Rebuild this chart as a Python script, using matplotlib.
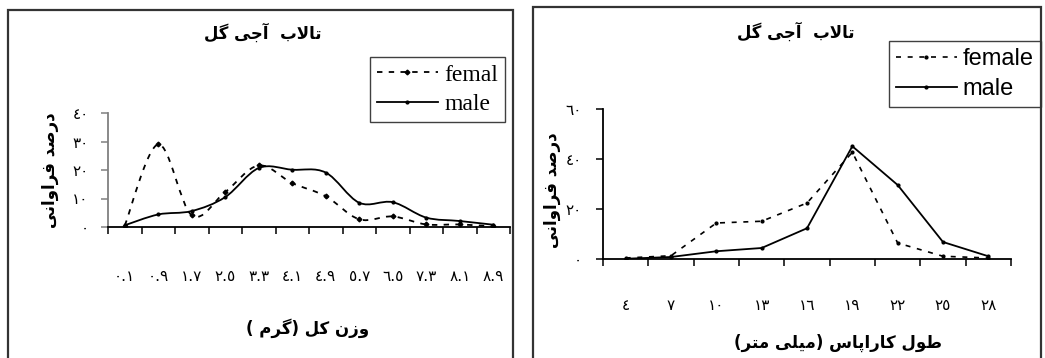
import matplotlib
matplotlib.use('Agg')
import matplotlib.pyplot as plt
import numpy as np
from matplotlib.path import Path
from matplotlib.patches import PathPatch, Rectangle
from matplotlib.lines import Line2D

# ---------------- data ----------------
weight_classes = ['0.1', '0.9', '1.7', '2.5', '3.3', '4.1', '4.9', '5.7', '6.5', '7.3', '8.1', '8.9']
weight_female = [0.5, 29.0, 4.1, 12.3, 21.6, 15.4, 10.8, 2.7, 3.7, 0.9, 0.9, 0.2]
weight_male = [0.6, 4.4, 5.6, 10.5, 20.7, 20.1, 19.1, 8.5, 8.7, 3.3, 2.1, 0.8]

length_classes = ['4', '7', '10', '13', '16', '19', '22', '25', '28']
length_female = [0.4, 1.3, 14.4, 15.1, 22.4, 42.7, 6.4, 1.1, 0.4]
length_male = [0.1, 0.8, 3.1, 4.4, 12.3, 45.1, 29.6, 6.8, 1.1]

title_txt = 'تالاب  آجی گل'
ylabel_txt = 'درصد فراوانی'
xlabel_left = 'وزن کل (گرم )'
xlabel_right = 'طول کاراپاس (میلی متر)'

# ---------------- persian text helpers ----------------
FORMS = {
    'ا': ('\uFE8D', '\uFE8E'), 'آ': ('\uFE81', '\uFE82'),
    'د': ('\uFEA9', '\uFEAA'), 'ر': ('\uFEAD', '\uFEAE'),
    'ز': ('\uFEAF', '\uFEB0'), 'و': ('\uFEED', '\uFEEE'),
    'ب': ('\uFE8F', '\uFE90', '\uFE91', '\uFE92'),
    'پ': ('\uFB56', '\uFB57', '\uFB58', '\uFB59'),
    'ت': ('\uFE95', '\uFE96', '\uFE97', '\uFE98'),
    'ج': ('\uFE9D', '\uFE9E', '\uFE9F', '\uFEA0'),
    'س': ('\uFEB1', '\uFEB2', '\uFEB3', '\uFEB4'),
    'ص': ('\uFEB9', '\uFEBA', '\uFEBB', '\uFEBC'),
    'ط': ('\uFEC1', '\uFEC2', '\uFEC3', '\uFEC4'),
    'ف': ('\uFED1', '\uFED2', '\uFED3', '\uFED4'),
    'ک': ('\uFB8E', '\uFB8F', '\uFB90', '\uFB91'),
    'گ': ('\uFB92', '\uFB93', '\uFB94', '\uFB95'),
    'ل': ('\uFEDD', '\uFEDE', '\uFEDF', '\uFEE0'),
    'م': ('\uFEE1', '\uFEE2', '\uFEE3', '\uFEE4'),
    'ن': ('\uFEE5', '\uFEE6', '\uFEE7', '\uFEE8'),
    'ی': ('\uFBFC', '\uFBFD', '\uFBFE', '\uFBFF'),
}
LAM_ALEF = {'ا': ('\uFEFB', '\uFEFC'), 'آ': ('\uFEF5', '\uFEF6')}


def fa(s):
    # contextual forms + right-to-left order, since matplotlib does no shaping
    out = []
    prev = False
    i = 0
    while i < len(s):
        c = s[i]
        if c not in FORMS:
            out.append(c)
            prev = False
            i += 1
            continue
        if c == 'ل' and i + 1 < len(s) and s[i + 1] in LAM_ALEF:
            out.append(LAM_ALEF[s[i + 1]][1 if prev else 0])
            prev = False
            i += 2
            continue
        nxt = s[i + 1] if i + 1 < len(s) else ''
        nxt_ok = len(FORMS[c]) == 4 and nxt in FORMS
        f = FORMS[c]
        if prev and nxt_ok:
            g = f[3]
        elif prev:
            g = f[1]
        elif nxt_ok:
            g = f[2]
        else:
            g = f[0]
        out.append(g)
        prev = nxt_ok
        i += 1
    vis = ''.join(reversed(out))
    return vis.translate(str.maketrans('()', ')('))


def ar_digits(s):
    return s.translate(str.maketrans('0123456789', '٠١٢٣٤٥٦٧٨٩'))


def smooth_path(xs, ys):
    # excel style smoothed line (bezier through the points)
    p = np.column_stack([xs, ys]).astype(float)
    n = len(p)
    verts = [p[0]]
    codes = [Path.MOVETO]
    for i in range(n - 1):
        p0 = p[i - 1] if i > 0 else p[i]
        p3 = p[i + 2] if i + 2 < n else p[i + 1]
        verts += [p[i] + (p[i + 1] - p0) / 6, p[i + 1] - (p3 - p[i]) / 6, p[i + 1]]
        codes += [Path.CURVE4] * 3
    return Path(verts, codes)


# ---------------- figure ----------------
W, H = 1045, 358
fig = plt.figure(figsize=(W / 100, H / 100), dpi=100)
fig.patch.set_facecolor('white')

AR = 'DejaVu Sans'

fig.add_artist(Rectangle((8 / W, -0.05), 505 / W, 1 - 10 / H + 0.05, transform=fig.transFigure,
                         fill=False, ec='#333333', lw=1.6))
fig.add_artist(Rectangle((533 / W, -0.05), 508 / W, 1 - 7 / H + 0.05, transform=fig.transFigure,
                         fill=False, ec='#333333', lw=1.6))

ax1 = fig.add_axes([108 / W, 131 / H, 402 / W, 114 / H])
ax2 = fig.add_axes([603 / W, 99 / H, 408 / W, 150 / H])


def style_axes(ax, ncat, yticks, xpad, ypad, left_color):
    ax.set_xlim(-0.5, ncat - 0.5)
    ax.set_ylim(0, yticks[-1])
    for s in ['top', 'right']:
        ax.spines[s].set_visible(False)
    ax.spines['left'].set_color(left_color)
    ax.spines['left'].set_linewidth(1.3)
    ax.spines['bottom'].set_linewidth(1.3)
    ax.set_xticks(np.arange(ncat + 1) - 0.5)
    ax.set_xticklabels([])
    ax.tick_params(axis='x', which='major', direction='out', length=5, width=1.1)
    ax.set_yticks(yticks)
    ax.set_yticklabels([ar_digits(str(v)) for v in yticks], fontsize=11, family=AR)
    ax.tick_params(axis='y', direction='out', length=5, width=1.1, pad=ypad, colors=left_color,
                   labelcolor='black')
    ax.set_xticks(np.arange(ncat), minor=True)
    ax.tick_params(axis='x', which='minor', length=0, pad=xpad)


# left panel: total weight
x1 = np.arange(len(weight_classes))
style_axes(ax1, len(weight_classes), [0, 10, 20, 30, 40], 30, 9, '#808080')
ax1.set_xticklabels([ar_digits(c) for c in weight_classes], minor=True, fontsize=11, family=AR)
ax1.add_patch(PathPatch(smooth_path(x1, weight_female), fill=False, ec='black', lw=1.3,
                        linestyle=(0, (3, 3.5))))
ax1.add_patch(PathPatch(smooth_path(x1, weight_male), fill=False, ec='black', lw=1.3))
ax1.plot(x1, weight_female, linestyle='none', marker='D', ms=2.4, color='black')
ax1.plot(x1, weight_male, linestyle='none', marker='o', ms=2, color='black')
h1 = [Line2D([], [], color='black', lw=1.3, linestyle=(0, (3, 3.5)), marker='D', ms=2.4),
      Line2D([], [], color='black', lw=1.3, marker='o', ms=2)]
leg1 = ax1.legend(h1, ['femal', 'male'], loc='upper right', bbox_to_anchor=(505 / W, 1 - 57 / H),
                  bbox_transform=fig.transFigure, prop={'family': 'Liberation Serif', 'size': 17},
                  fancybox=False, edgecolor='#404040', framealpha=1, borderaxespad=0,
                  handlelength=2.6, handletextpad=0.25, borderpad=0.3, labelspacing=0.35)
leg1.get_frame().set_linewidth(1.0)

# right panel: carapace length
x2 = np.arange(len(length_classes))
style_axes(ax2, len(length_classes), [0, 20, 40, 60], 28, 10, 'black')
ax2.set_xticklabels([ar_digits(c) for c in length_classes], minor=True, fontsize=11, family=AR)
ax2.plot(x2, length_female, color='black', lw=1.2, linestyle=(0, (3, 4)), marker='o', ms=2)
ax2.plot(x2, length_male, color='black', lw=1.3, marker='o', ms=2)
h2 = [Line2D([], [], color='black', lw=1.2, linestyle=(0, (3, 4)), marker='o', ms=2),
      Line2D([], [], color='black', lw=1.3, marker='o', ms=2)]
leg2 = ax2.legend(h2, ['female', 'male'], loc='upper right', bbox_to_anchor=(1041 / W, 1 - 41 / H),
                  bbox_transform=fig.transFigure, prop={'family': 'Liberation Sans', 'size': 17},
                  fancybox=False, edgecolor='#404040', framealpha=1, borderaxespad=0,
                  handlelength=2.6, handletextpad=0.25, borderpad=0.3, labelspacing=0.35)
leg2.get_frame().set_linewidth(1.0)

# titles and axis labels
fig.text(263 / W, 1 - 33 / H, fa(title_txt), ha='center', va='center', fontsize=12,
         fontweight='bold', family=AR)
fig.text(796 / W, 1 - 32 / H, fa(title_txt), ha='center', va='center', fontsize=12,
         fontweight='bold', family=AR)
fig.text(50 / W, 1 - 170 / H, fa(ylabel_txt), rotation=90, ha='center', va='center', fontsize=12,
         fontweight='bold', family=AR)
fig.text(552 / W, 1 - 190 / H, fa(ylabel_txt), rotation=90, ha='center', va='center', fontsize=12,
         fontweight='bold', family=AR)
fig.text(308 / W, 1 - 328 / H, fa(xlabel_left), ha='center', va='center', fontsize=12,
         fontweight='bold', family=AR)
fig.text(838 / W, 1 - 343 / H, fa(xlabel_right), ha='center', va='center', fontsize=12,
         fontweight='bold', family=AR)

fig.savefig('out.png', dpi=100)
